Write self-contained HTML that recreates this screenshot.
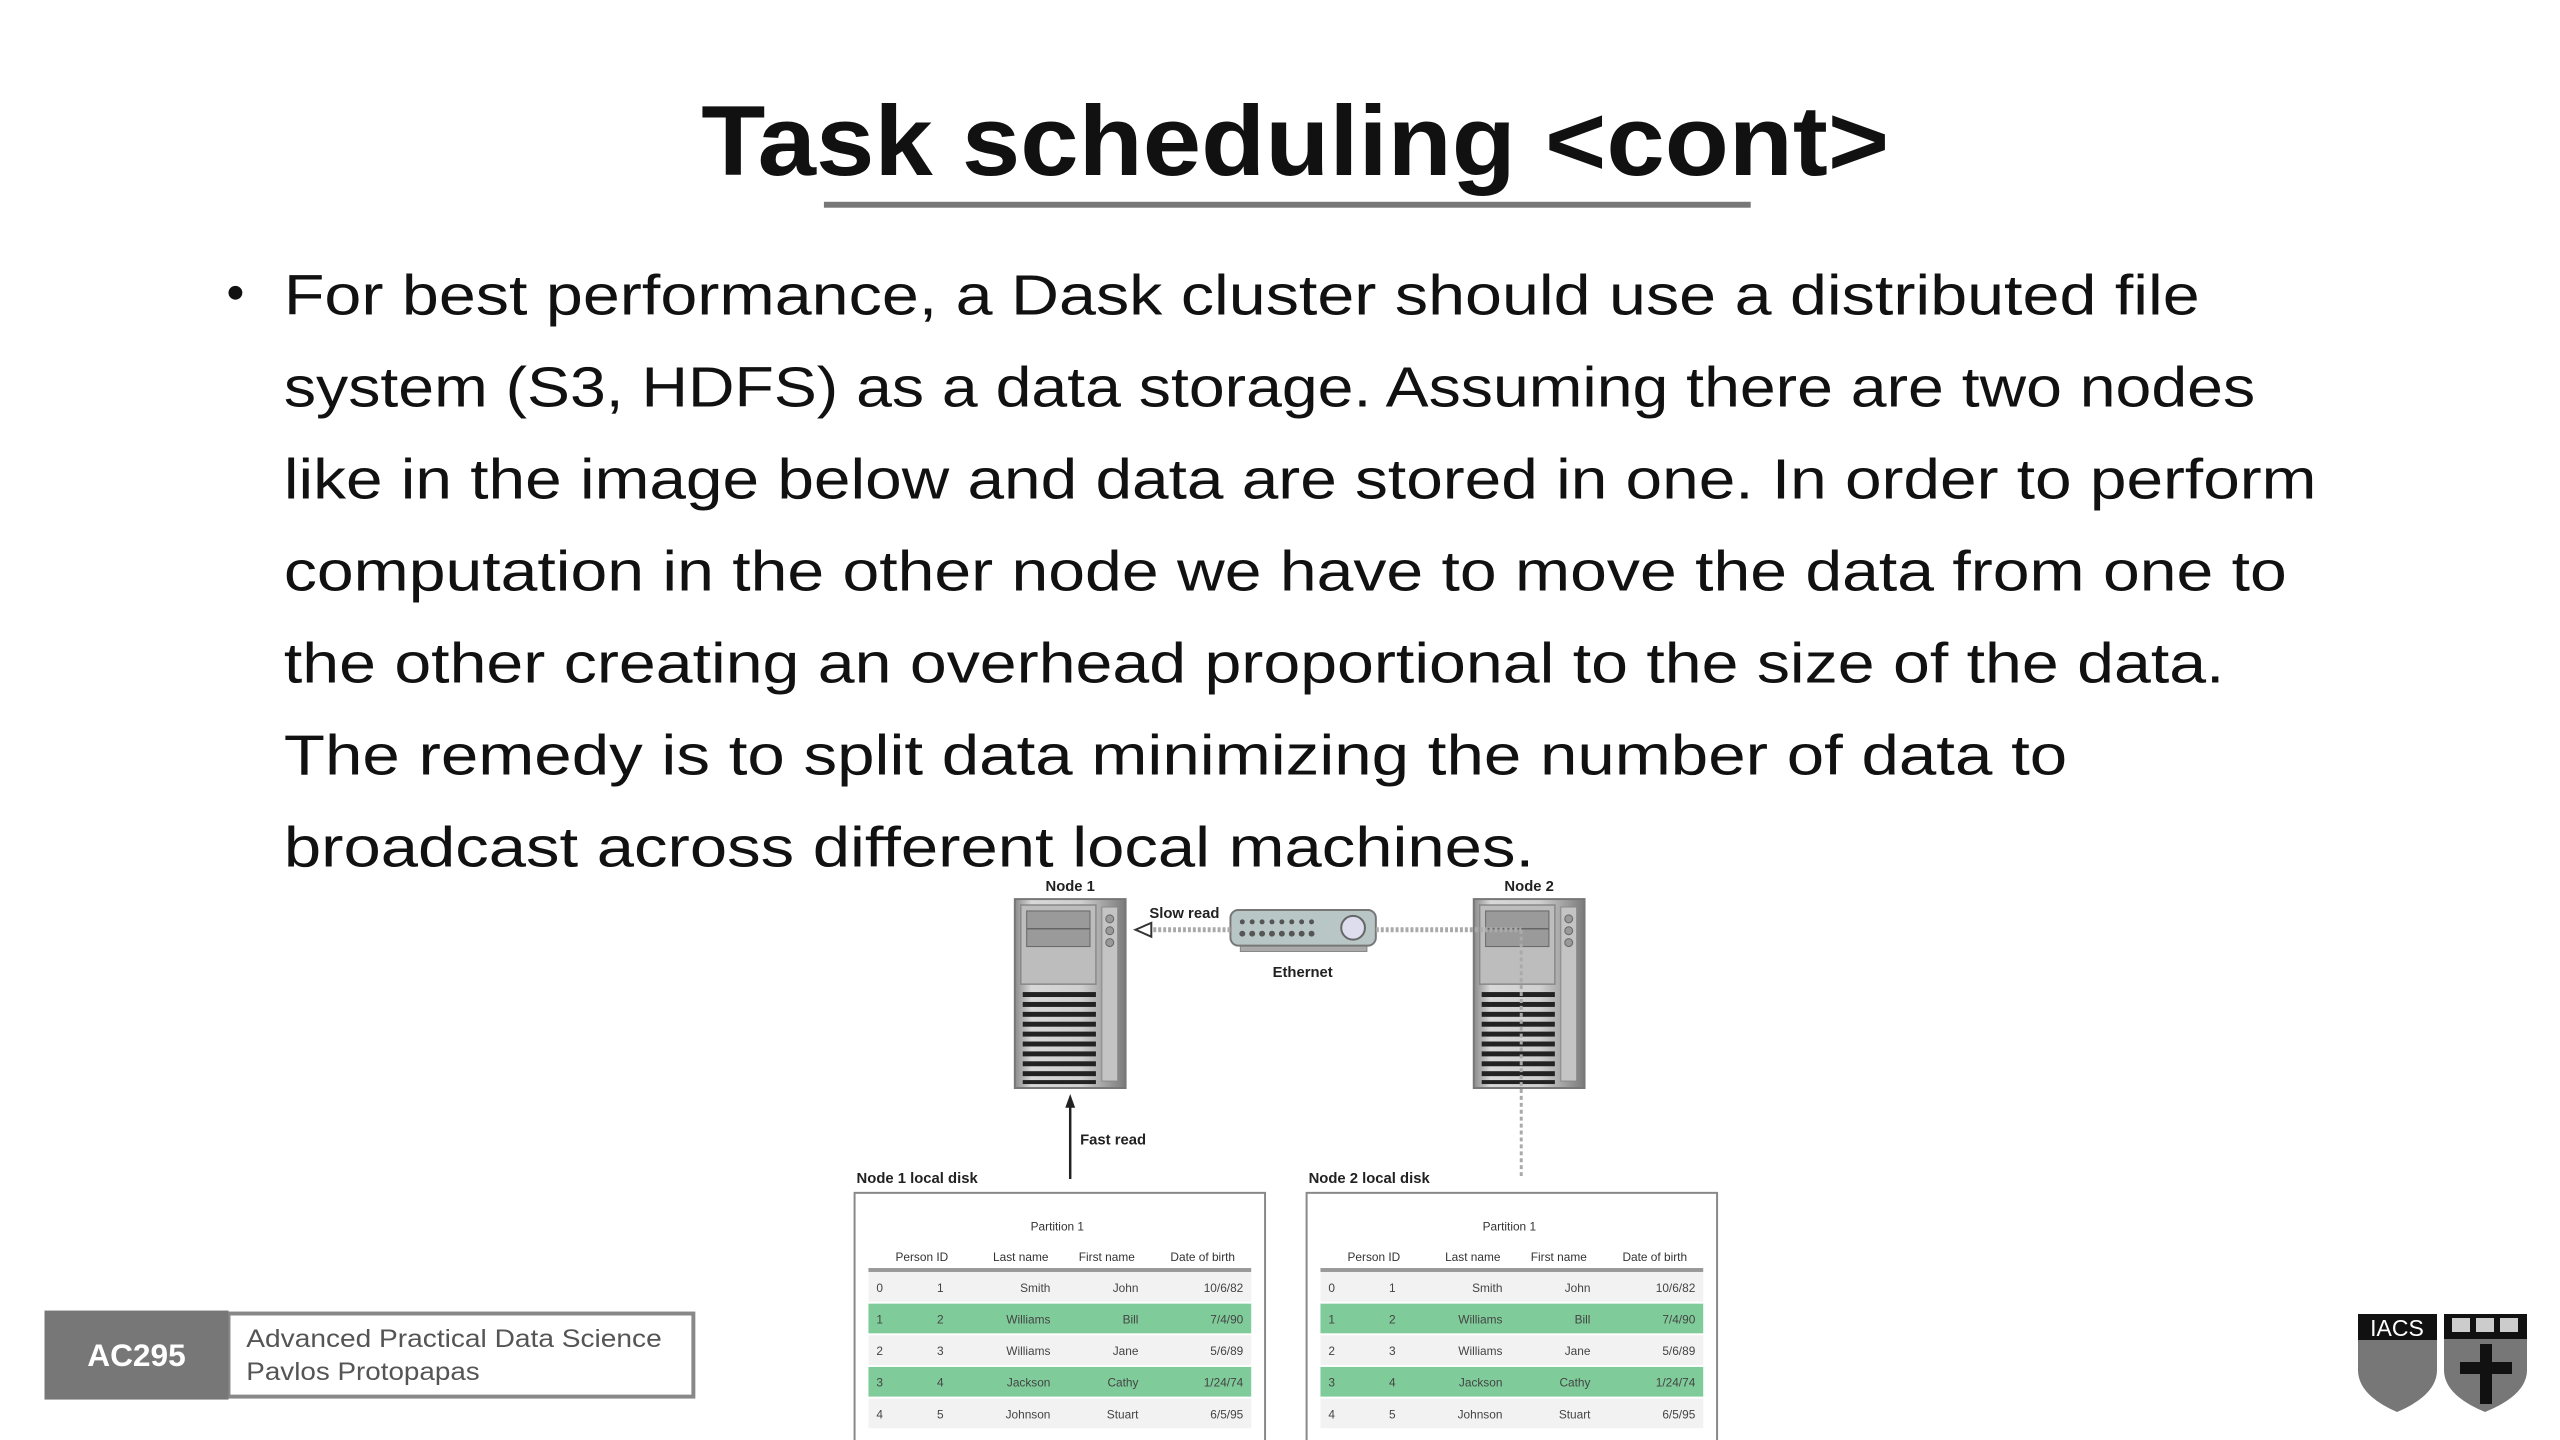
<!DOCTYPE html>
<html><head><meta charset="utf-8"><style>
html,body{margin:0;padding:0;background:#fff;width:2560px;height:1440px;overflow:hidden}
svg{display:block}
</style></head><body>
<svg width="2560" height="1440" viewBox="0 0 2560 1440" xmlns="http://www.w3.org/2000/svg" font-family="Liberation Sans, sans-serif">
<defs>
<linearGradient id="sg" x1="0" x2="1" y1="0" y2="0">
<stop offset="0" stop-color="#8a8a8a"/><stop offset="0.15" stop-color="#d8d8d8"/><stop offset="0.6" stop-color="#cfcfcf"/><stop offset="1" stop-color="#7a7a7a"/>
</linearGradient>
<g id="server">
<rect x="0" y="0" width="112" height="191" fill="url(#sg)" stroke="#777" stroke-width="2"/>
<rect x="6" y="6" width="76" height="80" fill="#bdbdbd" stroke="#888" stroke-width="1.5"/>
<rect x="12" y="12" width="64" height="36" fill="#9a9a9a" stroke="#666"/>
<line x1="12" y1="30" x2="76" y2="30" stroke="#666" stroke-width="1.5"/>
<rect x="88" y="8" width="16" height="176" fill="#c4c4c4" stroke="#888"/>
<circle cx="96" cy="20" r="4" fill="#999" stroke="#666"/>
<circle cx="96" cy="32" r="4" fill="#999" stroke="#666"/>
<circle cx="96" cy="44" r="4" fill="#999" stroke="#666"/>
<g fill="#222">
<rect x="8" y="94" width="74" height="5"/><rect x="8" y="104" width="74" height="5"/><rect x="8" y="114" width="74" height="5"/>
<rect x="8" y="124" width="74" height="5"/><rect x="8" y="134" width="74" height="5"/><rect x="8" y="144" width="74" height="5"/>
<rect x="8" y="154" width="74" height="5"/><rect x="8" y="164" width="74" height="5"/><rect x="8" y="174" width="74" height="5"/>
<rect x="8" y="183" width="74" height="4"/>
</g>
</g>
<g id="table" font-size="12" fill="#444">
<rect x="0" y="0" width="415" height="260" fill="#fff" stroke="#888" stroke-width="2"/>
<text x="205" y="38" text-anchor="middle" fill="#333">Partition 1</text>
<g text-anchor="middle" fill="#333">
<text x="68" y="69">Person ID</text><text x="168" y="69">Last name</text><text x="255" y="69">First name</text><text x="352" y="69">Date of birth</text>
</g>
<rect x="14" y="76" width="387" height="4" fill="#999"/>
<rect x="14" y="80" width="387" height="30" fill="#f2f2f2"/>
<rect x="14" y="112" width="387" height="30" fill="#7fcc9a"/>
<rect x="14" y="144" width="387" height="30" fill="#f2f2f2"/>
<rect x="14" y="176" width="387" height="30" fill="#7fcc9a"/>
<rect x="14" y="208" width="387" height="30" fill="#f2f2f2"/>
<g>
<text x="22" y="100">0</text><text x="22" y="132">1</text><text x="22" y="164">2</text><text x="22" y="196">3</text><text x="22" y="228">4</text>
</g>
<g text-anchor="end">
<text x="90" y="100">1</text><text x="90" y="132">2</text><text x="90" y="164">3</text><text x="90" y="196">4</text><text x="90" y="228">5</text>
<text x="198" y="100">Smith</text><text x="198" y="132">Williams</text><text x="198" y="164">Williams</text><text x="198" y="196">Jackson</text><text x="198" y="228">Johnson</text>
<text x="287" y="100">John</text><text x="287" y="132">Bill</text><text x="287" y="164">Jane</text><text x="287" y="196">Cathy</text><text x="287" y="228">Stuart</text>
<text x="393" y="100">10/6/82</text><text x="393" y="132">7/4/90</text><text x="393" y="164">5/6/89</text><text x="393" y="196">1/24/74</text><text x="393" y="228">6/5/95</text>
</g>
</g>
</defs>

<g transform="scale(0.9891)">
<text x="709" y="177" font-size="100" font-weight="bold" fill="#111" textLength="1201" lengthAdjust="spacingAndGlyphs">Task scheduling &lt;cont&gt;</text>
<rect x="833" y="204" width="937" height="6" fill="#777"/>

<circle cx="238" cy="296" r="7" fill="#111"/>
<g font-size="57" fill="#111">
<text x="287" y="318" textLength="1937" lengthAdjust="spacingAndGlyphs">For best performance, a Dask cluster should use a distributed file</text>
<text x="287" y="411" textLength="1993" lengthAdjust="spacingAndGlyphs">system (S3, HDFS) as a data storage. Assuming there are two nodes</text>
<text x="287" y="504" textLength="2055" lengthAdjust="spacingAndGlyphs">like in the image below and data are stored in one. In order to perform</text>
<text x="287" y="597" textLength="2025" lengthAdjust="spacingAndGlyphs">computation in the other node we have to move the data from one to</text>
<text x="287" y="690" textLength="1962" lengthAdjust="spacingAndGlyphs">the other creating an overhead proportional to the size of the data.</text>
<text x="287" y="783" textLength="1803" lengthAdjust="spacingAndGlyphs">The remedy is to split data minimizing the number of data to</text>
<text x="287" y="876" textLength="1264" lengthAdjust="spacingAndGlyphs">broadcast across different local machines.</text>
</g>

<g font-size="15" font-weight="bold" fill="#222">
<text x="1082" y="901" text-anchor="middle">Node 1</text>
<text x="1546" y="901" text-anchor="middle">Node 2</text>
<text x="1162" y="928">Slow read</text>
<text x="1317" y="988" text-anchor="middle">Ethernet</text>
<text x="1092" y="1157">Fast read</text>
<text x="866" y="1196">Node 1 local disk</text>
<text x="1323" y="1196">Node 2 local disk</text>
</g>
<use href="#server" x="1026" y="909"/>
<use href="#server" x="1490" y="909"/>

<rect x="1254" y="952" width="128" height="10" fill="#aaa" stroke="#888"/>
<rect x="1244" y="920" width="147" height="36" rx="8" fill="#b9c6c6" stroke="#777" stroke-width="2"/>
<g fill="#555">
<circle cx="1256" cy="932" r="2.5"/><circle cx="1266" cy="932" r="2.5"/><circle cx="1276" cy="932" r="2.5"/><circle cx="1286" cy="932" r="2.5"/><circle cx="1296" cy="932" r="2.5"/><circle cx="1306" cy="932" r="2.5"/><circle cx="1316" cy="932" r="2.5"/><circle cx="1326" cy="932" r="2.5"/>
<circle cx="1256" cy="944" r="3"/><circle cx="1266" cy="944" r="3"/><circle cx="1276" cy="944" r="3"/><circle cx="1286" cy="944" r="3"/><circle cx="1296" cy="944" r="3"/><circle cx="1306" cy="944" r="3"/><circle cx="1316" cy="944" r="3"/><circle cx="1326" cy="944" r="3"/>
</g>
<circle cx="1368" cy="938" r="12" fill="#dde" stroke="#666" stroke-width="2"/>

<line x1="1244" y1="940" x2="1160" y2="940" stroke="#aaa" stroke-width="5" stroke-dasharray="3,2"/>
<polygon points="1148,940 1164,933 1164,947" fill="#fff" stroke="#333" stroke-width="2"/>
<line x1="1391" y1="940" x2="1538" y2="940" stroke="#aaa" stroke-width="5" stroke-dasharray="3,2"/>
<line x1="1538" y1="940" x2="1538" y2="1192" stroke="#aaa" stroke-width="3" stroke-dasharray="4,3"/>
<line x1="1082" y1="1192" x2="1082" y2="1118" stroke="#222" stroke-width="2.5"/>
<polygon points="1082,1106 1077,1120 1087,1120" fill="#222"/>

<use href="#table" x="864" y="1206"/>
<use href="#table" x="1321" y="1206"/>

<rect x="231" y="1328" width="470" height="84" fill="#fff" stroke="#888" stroke-width="4"/>
<rect x="45" y="1325" width="186" height="90" fill="#777"/>
<text x="138" y="1381" font-size="32" font-weight="bold" fill="#fff" text-anchor="middle">AC295</text>
<text x="249" y="1362" font-size="25" fill="#555" textLength="420" lengthAdjust="spacingAndGlyphs">Advanced Practical Data Science</text>
<text x="249" y="1395" font-size="25" fill="#555" textLength="236" lengthAdjust="spacingAndGlyphs">Pavlos Protopapas</text>
</g>

<path d="M2358,1314 H2437 V1370 Q2437,1395 2397,1412 Q2358,1395 2358,1370 Z" fill="#777"/>
<rect x="2358" y="1314" width="79" height="26" fill="#111"/>
<text x="2397" y="1336" font-size="23" fill="#fff" text-anchor="middle">IACS</text>
<path d="M2444,1314 H2527 V1370 Q2527,1395 2485,1412 Q2444,1395 2444,1370 Z" fill="#777"/>
<rect x="2444" y="1314" width="83" height="25" fill="#111"/>
<rect x="2452" y="1318" width="18" height="14" fill="#ccc"/><rect x="2476" y="1318" width="18" height="14" fill="#ccc"/><rect x="2500" y="1318" width="18" height="14" fill="#ccc"/>
<path d="M2480,1344 H2492 V1362 H2512 V1374 H2492 V1404 H2480 V1374 H2460 V1362 H2480 Z" fill="#111"/>
</svg>
</body></html>
